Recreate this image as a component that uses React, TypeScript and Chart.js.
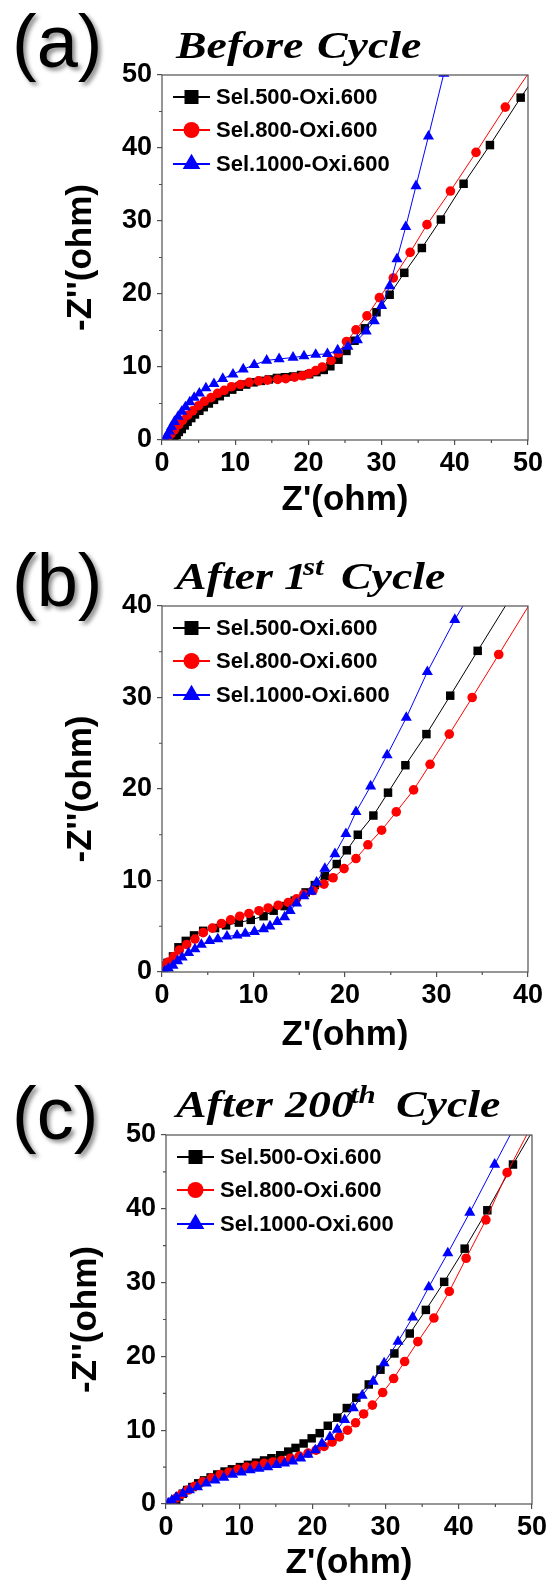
import React, { useEffect, useRef } from "react";
import { Chart, registerables } from "chart.js";

Chart.register(...registerables);

const SANS = '"Liberation Sans", Arial, Helvetica, sans-serif';
const SERIF = '"Liberation Serif", "Times New Roman", Times, serif';
const AXIS = "#505050";
const PAGE_W = 551;

const seriesNames = ["Sel.500-Oxi.600", "Sel.800-Oxi.600", "Sel.1000-Oxi.600"];
const seriesColors = ["#000000", "#ff0000", "#0000ff"];
const seriesMarkers = ["rect", "circle", "triangle"];
const seriesRadius = [6, 4.8, 6.4];
const legendRadius = [9.9, 8, 10.2];

// ---------- (a) Before Cycle ----------
const aTicks = [0, 10, 20, 30, 40, 50];
const a500X = [1.4,1.7,2.0,2.3,2.7,3.1,3.5,4.0,4.5,5.1,5.7,6.4,7.1,7.9,8.7,9.6,10.5,11.5,12.5,13.5,14.6,15.7,16.8,17.9,19.0,20.1,21.1,22.1,23.0,24.1,25.2,26.3,27.7,29.3,31.1,33.1,35.5,38.1,41.2,44.8,49.0,53.6];
const a500Y = [0.0,0.3,0.7,1.1,1.5,2.0,2.5,3.0,3.5,4.0,4.5,5.0,5.5,6.0,6.5,6.9,7.3,7.6,7.9,8.1,8.3,8.5,8.6,8.7,8.9,9.0,9.3,9.6,10.1,11.0,12.2,13.6,15.3,17.5,19.9,22.9,26.3,30.2,35.1,40.4,46.9,53.6];
const a800X = [0.8,1.2,1.7,2.3,2.8,3.5,4.2,5.0,5.8,6.7,7.6,8.5,9.5,10.7,11.9,13.2,14.4,15.8,16.9,18.1,19.2,20.1,21.0,21.9,23.1,24.1,25.2,26.5,28.0,29.7,31.6,33.9,36.2,39.4,42.9,46.9,51.4];
const a800Y = [0.4,0.8,1.4,2.1,2.7,3.4,4.0,4.7,5.3,5.8,6.4,6.8,7.3,7.6,7.9,8.1,8.2,8.3,8.4,8.6,8.8,9.1,9.5,10.0,10.9,11.9,13.5,15.1,17.0,19.5,22.2,25.7,29.5,34.1,39.4,45.6,52.2];
const a1000X = [0.4,0.7,1.0,1.3,1.7,2.2,2.7,3.2,3.8,4.4,5.1,6.0,7.1,8.3,9.7,11.1,12.6,14.3,16.0,17.9,19.4,21.0,22.6,24.0,25.4,26.7,27.9,29.0,30.0,31.1,32.1,33.3,34.7,36.4,38.5];
const a1000Y = [0.1,0.6,1.2,1.8,2.5,3.2,3.9,4.5,5.2,5.8,6.4,7.1,7.7,8.4,9.0,9.7,10.3,10.9,11.1,11.3,11.5,11.7,11.8,12.3,12.8,13.7,14.9,16.3,18.4,21.1,24.8,29.2,34.8,41.6,50.2];

// ---------- (b) After 1st Cycle ----------
const bTicks = [0, 10, 20, 30, 40];
const b500X = [0.1,0.6,1.2,1.8,2.6,3.5,4.5,5.8,7.0,8.4,9.7,11.1,12.2,13.4,14.5,15.7,16.7,17.8,19.1,20.2,21.4,23.1,24.7,26.6,28.9,31.5,34.5,37.9];
const b500Y = [0.6,1.0,1.7,2.7,3.4,4.0,4.5,4.8,5.1,5.4,5.7,6.1,6.7,7.2,7.8,8.7,9.5,10.5,11.8,13.3,15.0,17.1,19.6,22.6,26.0,30.2,35.1,40.6];
const b800X = [0.2,0.7,1.3,1.9,2.7,3.6,4.5,5.5,6.5,7.5,8.5,9.5,10.6,11.6,12.7,13.8,14.7,15.5,16.5,17.7,18.7,19.9,21.2,22.5,24.0,25.6,27.5,29.3,31.4,33.9,36.8,40.3];
const b800Y = [0.7,1.1,1.7,2.4,3.0,3.6,4.3,4.8,5.3,5.7,6.1,6.4,6.7,7.0,7.3,7.6,8.0,8.5,8.9,9.6,10.3,11.3,12.4,13.9,15.5,17.5,19.9,22.7,26.0,30.0,34.7,40.4];
const b1000X = [0.3,0.7,1.2,1.7,2.2,2.9,3.6,4.3,5.2,6.1,7.1,8.2,9.1,10.1,11.1,11.8,12.6,13.4,14.0,14.7,15.5,16.3,16.9,17.8,18.9,20.1,21.2,22.8,24.6,26.7,29.0,32.0,35.2];
const b1000Y = [0.1,0.4,0.7,1.2,1.6,2.1,2.5,3.0,3.4,3.6,3.9,4.0,4.2,4.4,4.7,5.0,5.5,6.0,6.7,7.5,8.3,8.8,9.8,11.3,12.9,15.1,17.5,20.3,23.7,27.8,32.8,38.5,43.9];

// ---------- (c) After 200th Cycle ----------
const cTicks = [0, 10, 20, 30, 40, 50];
const c500X = [1.1,1.4,1.8,2.3,2.9,3.6,4.4,5.2,6.1,7.0,8.0,9.0,10.1,11.2,12.3,13.4,14.4,15.6,16.7,17.7,18.8,19.9,21.0,22.1,23.4,24.7,26.0,27.7,29.3,31.2,33.3,35.5,38.0,40.8,43.9,47.4,51.4];
const c500Y = [0.1,0.5,1.0,1.4,1.9,2.3,2.8,3.2,3.6,4.0,4.4,4.7,5.0,5.3,5.6,5.9,6.2,6.6,7.1,7.6,8.2,8.9,9.6,10.6,11.7,13.0,14.4,16.2,18.2,20.4,23.1,26.3,30.1,34.6,39.8,46.0,52.8];
const c800X = [0.8,1.4,2.1,3.0,3.9,5.0,6.2,7.4,8.6,9.8,11.0,12.2,13.4,14.6,15.8,17.0,18.2,19.4,20.5,21.6,22.7,23.7,24.8,25.9,27.0,28.2,29.6,31.1,32.6,34.4,36.6,38.7,41.0,43.7,46.6,49.8];
const c800Y = [0.3,0.8,1.3,1.9,2.4,3.0,3.5,4.0,4.3,4.7,5.0,5.2,5.5,5.7,5.9,6.2,6.5,6.9,7.3,7.8,8.4,9.1,10.0,11.0,12.2,13.4,15.1,17.0,19.3,22.0,25.2,28.8,33.3,38.5,44.9,51.0];
const c1000X = [0.3,0.8,1.4,2.3,3.2,4.3,5.5,6.7,7.9,9.1,10.3,11.5,12.7,13.9,15.1,16.2,17.3,18.4,19.4,20.4,21.3,22.4,23.4,24.4,25.6,26.8,28.3,29.8,31.7,33.7,35.9,38.5,41.5,44.9,48.5];
const c1000Y = [0.1,0.5,0.9,1.4,1.9,2.3,2.8,3.2,3.6,4.0,4.3,4.6,4.8,5.0,5.3,5.5,5.8,6.2,6.7,7.3,8.2,9.1,10.1,11.4,13.0,14.7,16.6,19.1,22.0,25.3,29.4,34.0,39.5,46.0,52.8];

type TitlePart = { t: string; x: number; sup?: boolean };
type PanelCfg = {
  key: string;
  top: number;
  height: number;
  area: { left: number; top: number; right: number; bottom: number };
  ticks: number[];
  series: number[][][];
  label: string;
  labelBaseline: number;
  title: TitlePart[];
  titleBaseline: number;
  xTitleY: number;
  yTitleX: number;
};

const panels: PanelCfg[] = [
  {
    key: "a", top: 0, height: 530,
    area: { left: 162, top: 75, right: 528, bottom: 440 },
    ticks: aTicks,
    series: [[a500X, a500Y], [a800X, a800Y], [a1000X, a1000Y]],
    label: "(a)", labelBaseline: 67,
    title: [{ t: "Before", x: 176 }, { t: "Cycle", x: 317 }],
    titleBaseline: 58,
    xTitleY: 500, yTitleX: 81,
  },
  {
    key: "b", top: 530, height: 520,
    area: { left: 162, top: 76, right: 528, bottom: 442 },
    ticks: bTicks,
    series: [[b500X, b500Y], [b800X, b800Y], [b1000X, b1000Y]],
    label: "(b)", labelBaseline: 76,
    title: [{ t: "After", x: 176 }, { t: "1", x: 284 }, { t: "st", x: 303, sup: true }, { t: "Cycle", x: 341 }],
    titleBaseline: 59,
    xTitleY: 505, yTitleX: 81,
  },
  {
    key: "c", top: 1050, height: 533,
    area: { left: 166, top: 85, right: 532, bottom: 454 },
    ticks: cTicks,
    series: [[c500X, c500Y], [c800X, c800Y], [c1000X, c1000Y]],
    label: "(c)", labelBaseline: 89,
    title: [{ t: "After", x: 176 }, { t: "200", x: 285 }, { t: "th", x: 350, sup: true }, { t: "Cycle", x: 396 }],
    titleBaseline: 67,
    xTitleY: 513, yTitleX: 86,
  },
];

function drawMarker(ctx: CanvasRenderingContext2D, style: string, x: number, y: number, r: number) {
  ctx.beginPath();
  if (style === "rect") {
    const s = r * Math.SQRT1_2;
    ctx.rect(x - s, y - s, 2 * s, 2 * s);
  } else if (style === "circle") {
    ctx.arc(x, y, r, 0, Math.PI * 2);
  } else {
    const a = (2 * Math.PI) / 3;
    ctx.moveTo(x, y - r);
    ctx.lineTo(x + r * Math.sin(a), y - r * Math.cos(a));
    ctx.lineTo(x + r * Math.sin(2 * a), y - r * Math.cos(2 * a));
    ctx.closePath();
  }
  ctx.fill();
}

function buildChart(canvas: HTMLCanvasElement, cfg: PanelCfg) {
  const maxV = cfg.ticks[cfg.ticks.length - 1];
  const datasets = cfg.series.map((s, i) => ({
    label: seriesNames[i],
    data: s[0].map((x, j) => ({ x, y: s[1][j] })),
    showLine: true,
    borderColor: seriesColors[i],
    backgroundColor: seriesColors[i],
    borderWidth: 1,
    tension: 0,
    pointStyle: seriesMarkers[i],
    pointRadius: seriesRadius[i],
    pointHoverRadius: seriesRadius[i],
    pointBorderWidth: 0,
    pointBackgroundColor: seriesColors[i],
    order: 3 - i,
  }));

  const tickFont = { family: SANS, size: 27, weight: "bold" as const };
  const titleFont = { family: SANS, size: 35, weight: "bold" as const, lineHeight: 1 };

  const decor = {
    id: "decor",
    afterDraw(chart: any) {
      const ctx: CanvasRenderingContext2D = chart.ctx;
      const ca = chart.chartArea;
      const xs = chart.scales.x;
      const ys = chart.scales.y;
      ctx.save();
      // minor ticks
      ctx.strokeStyle = AXIS;
      ctx.lineWidth = 1.2;
      ctx.beginPath();
      for (let i = 0; i < cfg.ticks.length - 1; i++) {
        const mid = (cfg.ticks[i] + cfg.ticks[i + 1]) / 2;
        const px = xs.getPixelForValue(mid);
        ctx.moveTo(px, ca.bottom);
        ctx.lineTo(px, ca.bottom + 3);
        const py = ys.getPixelForValue(mid);
        ctx.moveTo(ca.left, py);
        ctx.lineTo(ca.left - 3, py);
      }
      ctx.stroke();
      // frame
      ctx.strokeRect(ca.left, ca.top, ca.right - ca.left, ca.bottom - ca.top);

      // legend
      const rows = [22, 55, 89];
      ctx.font = `bold 22px ${SANS}`;
      ctx.textBaseline = "middle";
      ctx.textAlign = "left";
      for (let i = 0; i < 3; i++) {
        const y = ca.top + rows[i];
        ctx.strokeStyle = seriesColors[i];
        ctx.fillStyle = seriesColors[i];
        ctx.lineWidth = 2;
        ctx.beginPath();
        ctx.moveTo(ca.left + 11, y);
        ctx.lineTo(ca.left + 48, y);
        ctx.stroke();
        drawMarker(ctx, seriesMarkers[i], ca.left + 29.5, y, legendRadius[i]);
        ctx.fillStyle = "#000";
        ctx.fillText(seriesNames[i], ca.left + 54, y + 1);
      }

      // panel title (italic serif)
      ctx.fillStyle = "#000";
      ctx.textBaseline = "alphabetic";
      for (const part of cfg.title) {
        const size = part.sup ? 25 : 37;
        ctx.font = `italic bold ${size}px ${SERIF}`;
        ctx.save();
        ctx.translate(part.x, cfg.titleBaseline - (part.sup ? 14 : 0));
        ctx.scale(1.24, 1);
        ctx.fillText(part.t, 0, 0);
        ctx.restore();
      }

      // panel letter with soft shadow
      ctx.font = `normal 74px ${SANS}`;
      ctx.shadowColor = "rgba(0,0,0,0.45)";
      ctx.shadowOffsetX = 3;
      ctx.shadowOffsetY = 3;
      ctx.shadowBlur = 4;
      ctx.fillText(cfg.label, 12, cfg.labelBaseline);
      ctx.restore();
    },
  };

  const axisCommon = (isX: boolean) => ({
    type: "linear" as const,
    position: isX ? ("bottom" as const) : ("left" as const),
    min: 0,
    max: maxV,
    afterBuildTicks: (scale: any) => {
      scale.ticks = cfg.ticks.map((v) => ({ value: v }));
    },
    ticks: {
      font: tickFont,
      color: "#000",
      padding: isX ? 2 : 5,
      autoSkip: false,
      maxRotation: 0,
      callback: (v: any) => String(v),
    },
    grid: {
      display: true,
      drawOnChartArea: false,
      drawTicks: true,
      tickLength: 5,
      color: AXIS,
      lineWidth: 1.2,
    },
    border: { display: false },
    title: {
      display: true,
      text: isX ? "Z'(ohm)" : "-Z''(ohm)",
      font: titleFont,
      color: "#000",
      padding: isX
        ? { top: 0, bottom: cfg.height - cfg.xTitleY - 17.5 }
        : { top: cfg.yTitleX - 17.5, bottom: 0 },
    },
    afterFit: (scale: any) => {
      if (isX) scale.height = cfg.height - cfg.area.bottom;
      else scale.width = cfg.area.left;
    },
  });

  return new Chart(canvas, {
    type: "scatter",
    data: { datasets: datasets as any },
    options: {
      responsive: false,
      maintainAspectRatio: false,
      animation: false,
      events: [],
      layout: {
        padding: { left: 0, top: cfg.area.top, right: PAGE_W - cfg.area.right, bottom: 0 },
      },
      plugins: {
        legend: { display: false },
        tooltip: { enabled: false },
        title: { display: false },
      },
      scales: {
        x: axisCommon(true) as any,
        y: axisCommon(false) as any,
      },
    },
    plugins: [decor],
  });
}

function Panel({ cfg }: { cfg: PanelCfg }) {
  const ref = useRef<HTMLCanvasElement>(null);
  useEffect(() => {
    if (!ref.current) return;
    const chart = buildChart(ref.current, cfg);
    return () => chart.destroy();
  }, [cfg]);
  return (
    <canvas
      ref={ref}
      width={PAGE_W}
      height={cfg.height}
      style={{ position: "absolute", left: 0, top: cfg.top, width: PAGE_W, height: cfg.height }}
    />
  );
}

export default function App() {
  return (
    <div
      style={{
        position: "absolute",
        left: 0,
        top: 0,
        width: PAGE_W,
        height: 1583,
        background: "#ffffff",
        overflow: "hidden",
      }}
    >
      {panels.map((p) => (
        <Panel key={p.key} cfg={p} />
      ))}
    </div>
  );
}
